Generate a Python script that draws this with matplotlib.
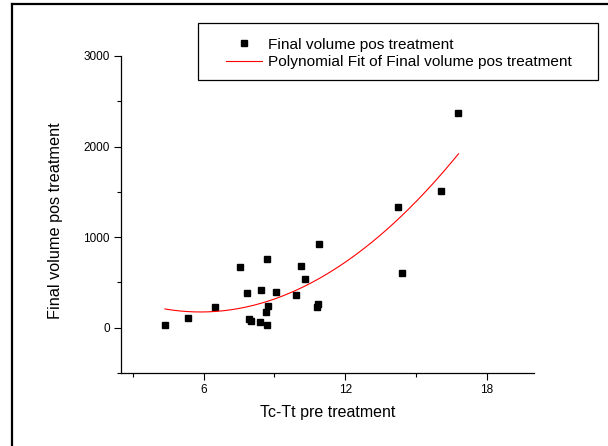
import numpy as np
import matplotlib
matplotlib.use("Agg")
import matplotlib.pyplot as plt
from matplotlib.lines import Line2D
from matplotlib.patches import Rectangle

plt.rcParams['font.family'] = ['Liberation Sans', 'DejaVu Sans']

# Data
tc_tt = [4.36, 5.33, 6.48, 7.54, 7.86, 7.94, 8.00, 8.42, 8.39, 8.68, 8.64, 8.74, 8.68,
         9.05, 9.91, 10.12, 10.31, 10.79, 10.83, 10.87, 14.22, 14.42, 16.04, 16.80]
final_vol = [33, 110, 224, 666, 382, 95, 73, 419, 58, 757, 172, 235, 33,
             397, 360, 677, 541, 227, 257, 927, 1330, 603, 1504, 2376]
x_ticks = [6, 12, 18]
y_ticks = [0, 1000, 2000, 3000]
series_label = "Final volume pos treatment"
fit_label = "Polynomial Fit of Final volume pos treatment"

x = np.array(tc_tt)
y = np.array(final_vol)
coef = np.polyfit(x, y, 2)
xf = np.linspace(x.min(), x.max(), 200)
yf = np.polyval(coef, xf)

W, H = 608, 446
fig = plt.figure(figsize=(W / 100, H / 100), dpi=100)
ax = fig.add_axes([121 / W, 1 - 373 / H, (534 - 121) / W, (373 - 56) / H])

ax.plot(x, y, linestyle='none', marker='s', markersize=5, color='black',
        label=series_label)
ax.plot(xf, yf, color='red', linewidth=0.8, label=fit_label)

ax.set_xlim(2.5, 20)
ax.set_ylim(-500, 3000)
ax.set_xticks(x_ticks)
ax.set_yticks(y_ticks)
ax.set_xticks([3, 9, 15], minor=True)
ax.set_yticks([-500, 500, 1500, 2500], minor=True)
ax.tick_params(which='major', direction='out', length=5, width=0.8, labelsize=8.5, pad=3)
ax.tick_params(which='minor', direction='out', length=3, width=0.8)
for s in ['top', 'right']:
    ax.spines[s].set_visible(False)
for s in ['left', 'bottom']:
    ax.spines[s].set_linewidth(0.9)

fig.text(328 / W, 1 - 413 / H, "Tc-Tt pre treatment", ha='center', va='center', fontsize=11.5)
fig.text(55.5 / W, 1 - 221 / H, "Final volume pos treatment", ha='center', va='center',
         rotation=90, fontsize=11.7)

# legend box
fig.patches.append(Rectangle((198 / W, 1 - 80 / H), 400 / W, 57 / H, transform=fig.transFigure,
                             fill=False, edgecolor='black', linewidth=0.9))
leg = fig.legend(loc='center left', bbox_to_anchor=(226 / W, 1 - 53.5 / H), frameon=False,
                 borderpad=0, handlelength=2.35, handletextpad=0.4, labelspacing=0.22,
                 fontsize=11.1, borderaxespad=0)
leg.set_bbox_to_anchor((226 / W, 1 - 53.5 / H), transform=fig.transFigure)

# outer border (top and left)
fig.lines.append(Line2D([12 / W, 12 / W], [0, 1 - 4 / H], transform=fig.transFigure,
                        color='black', linewidth=1.6))
fig.lines.append(Line2D([12 / W, 1], [1 - 4 / H, 1 - 4 / H], transform=fig.transFigure,
                        color='black', linewidth=1.6))

fig.savefig("out.png", dpi=100)
